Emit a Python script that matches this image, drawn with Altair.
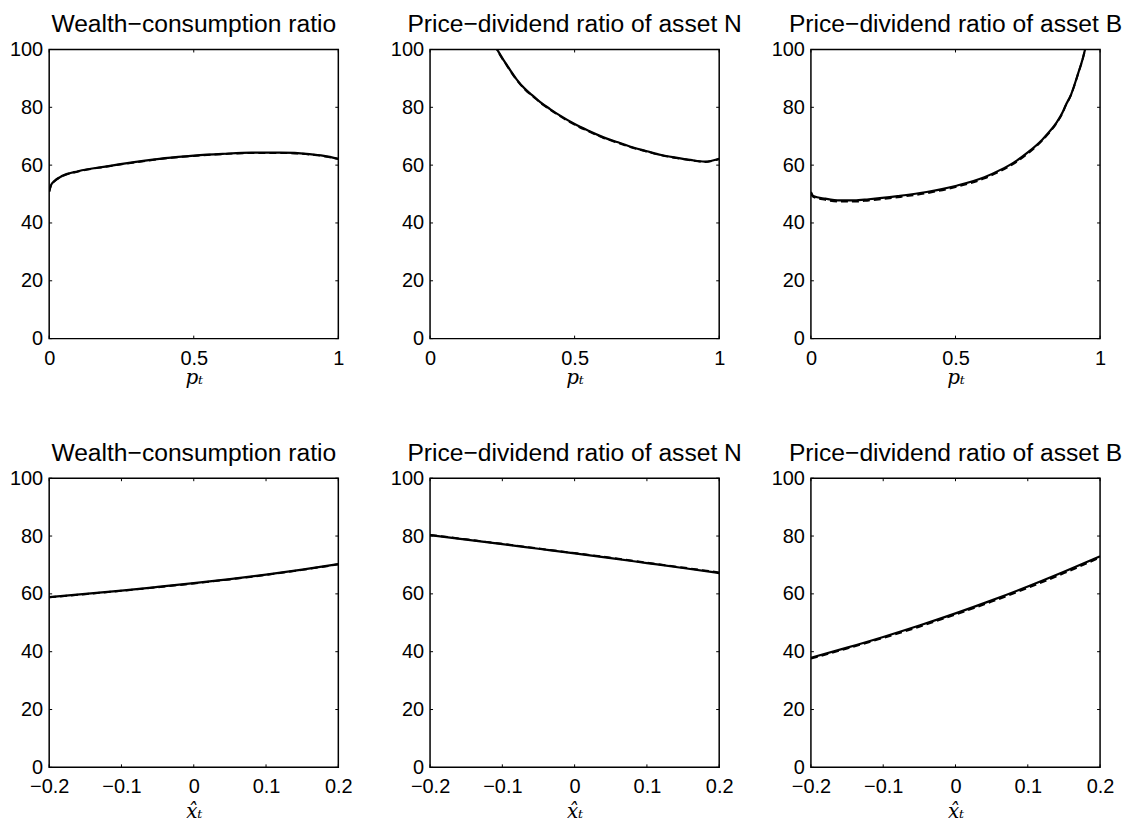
import altair as alt
import pandas as pd

# ---------------- data ----------------
TITLES = ["Wealth\u2212consumption ratio",
          "Price\u2212dividend ratio of asset N",
          "Price\u2212dividend ratio of asset B"]

# top row: against p_t
WC_P_X = [0, 0.006, 0.017, 0.046, 0.1, 0.2, 0.3, 0.4, 0.5, 0.6, 0.7, 0.8, 0.9, 0.95, 1.0]
WC_P_SOLID = [50.9, 53.0, 54.4, 56.3, 57.9, 59.6, 61.1, 62.4, 63.3, 63.9, 64.3, 64.3, 63.8, 63.2, 62.2]
WC_P_DASH = [50.8, 52.9, 54.3, 56.2, 57.8, 59.5, 61.0, 62.3, 63.2, 63.8, 64.2, 64.2, 63.7, 63.1, 62.1]

PN_P_X = [0.22, 0.232, 0.25, 0.266, 0.28, 0.3, 0.33, 0.358, 0.38, 0.415, 0.45, 0.5,
          0.55, 0.6, 0.65, 0.7, 0.75, 0.8, 0.85, 0.9, 0.95, 1.0]
PN_P_SOLID = [102.0, 100.0, 97.0, 94.6, 92.4, 89.6, 86.2, 83.8, 81.9, 79.4, 77.1, 74.2,
              71.8, 69.6, 67.9, 66.2, 64.8, 63.5, 62.6, 61.8, 61.2, 62.2]
PN_P_DASH = [101.8, 99.8, 96.8, 94.4, 92.2, 89.4, 86.0, 83.6, 81.7, 79.2, 76.9, 74.0,
             71.6, 69.4, 67.7, 66.0, 64.7, 63.4, 62.5, 61.7, 61.1, 62.1]

PB_P_X = [0, 0.008, 0.05, 0.1, 0.15, 0.2, 0.3, 0.4, 0.5, 0.6, 0.65, 0.7, 0.75, 0.8,
          0.82, 0.85, 0.87, 0.88, 0.9, 0.91, 0.925, 0.94, 0.948, 0.955]
PB_P_SOLID = [50.7, 49.3, 48.4, 47.8, 47.8, 48.2, 49.3, 50.7, 52.8, 55.8, 58.1, 60.8,
              64.4, 68.8, 71.0, 74.8, 78.2, 80.5, 84.5, 87.3, 92.0, 96.8, 100.0, 103.0]
PB_P_DASH = [50.4, 49.0, 48.0, 47.4, 47.4, 47.8, 48.9, 50.3, 52.4, 55.4, 57.7, 60.4,
             64.0, 68.5, 70.7, 74.6, 78.0, 80.3, 84.4, 87.2, 91.9, 96.7, 99.9, 102.9]

# bottom row: against x-hat
XH = [-0.2, -0.15, -0.1, -0.05, 0, 0.05, 0.1, 0.15, 0.2]
WC_X_SOLID = [58.9, 60.0, 61.15, 62.4, 63.7, 65.1, 66.65, 68.4, 70.3]
WC_X_DASH = [58.8, 59.9, 61.05, 62.3, 63.6, 65.0, 66.55, 68.3, 70.2]
PN_X_SOLID = [80.3, 78.75, 77.2, 75.6, 74.0, 72.35, 70.65, 68.95, 67.2]
PN_X_DASH = [80.4, 78.85, 77.3, 75.7, 74.1, 72.5, 70.8, 69.1, 67.4]
PB_X_SOLID = [37.9, 41.4, 45.1, 49.05, 53.25, 57.75, 62.55, 67.65, 73.0]
PB_X_DASH = [37.6, 41.1, 44.75, 48.65, 52.85, 57.3, 62.05, 67.15, 72.6]

P_TICKS = [0, 0.5, 1]
X_TICKS = [-0.2, -0.1, 0, 0.1, 0.2]
Y_TICKS = [0, 20, 40, 60, 80, 100]

# ---------------- styling ----------------
W = H = 290
FONT = "Liberation Sans"
TL = 3  # inward tick length
NB = "\u00a0\u00a0"


def panel(title, xs, solid, dashed, xdomain, xticks, xtitle, title_y):
    xscale = alt.Scale(domain=xdomain, nice=False, zero=False)
    yscale = alt.Scale(domain=[0, 100], nice=False, zero=False)
    xaxis = alt.Axis(
        values=xticks,
        labelExpr="datum.value < 0 ? format(datum.value, '~g') + '" + NB + "' : format(datum.value, '~g')",
        labelFont=FONT, labelFontSize=20, labelColor="black", labelPadding=9.5,
        labelFlush=False, labelOverlap=False,
        domain=False, ticks=False, grid=False,
        title=xtitle, titleFont="DejaVu Serif", titleFontStyle="italic",
        titleFontWeight="normal", titleFontSize=20, titleColor="black",
        titleY=title_y, titleBaseline="alphabetic")
    yaxis = alt.Axis(
        values=Y_TICKS, labelFont=FONT, labelFontSize=20, labelColor="black",
        labelPadding=6.5, labelFlush=False, labelOverlap=False,
        domain=False, ticks=False, grid=False, title=None)

    ds = pd.DataFrame({"x": xs, "y": solid})
    dd = pd.DataFrame({"x": xs, "y": dashed})

    solid_line = alt.Chart(ds).mark_line(
        color="black", strokeWidth=2.2, clip=True, interpolate="monotone"
    ).encode(
        x=alt.X("x:Q", scale=xscale, axis=xaxis),
        y=alt.Y("y:Q", scale=yscale, axis=yaxis),
    )
    dash_line = alt.Chart(dd).mark_line(
        color="black", strokeWidth=2.0, strokeDash=[7, 4], clip=True, interpolate="monotone"
    ).encode(
        x=alt.X("x:Q", scale=xscale, axis=xaxis),
        y=alt.Y("y:Q", scale=yscale, axis=yaxis),
    )
    xt = pd.DataFrame({"x": xticks})
    yt = pd.DataFrame({"y": Y_TICKS})
    rule = dict(color="black", strokeWidth=1)
    bot = alt.Chart(xt).mark_rule(**rule).encode(
        x=alt.X("x:Q", scale=xscale, axis=xaxis), y=alt.value(H), y2=alt.value(H - TL))
    top = alt.Chart(xt).mark_rule(**rule).encode(
        x=alt.X("x:Q", scale=xscale, axis=xaxis), y=alt.value(0), y2=alt.value(TL))
    left = alt.Chart(yt).mark_rule(**rule).encode(
        y=alt.Y("y:Q", scale=yscale, axis=yaxis), x=alt.value(0), x2=alt.value(TL))
    right = alt.Chart(yt).mark_rule(**rule).encode(
        y=alt.Y("y:Q", scale=yscale, axis=yaxis), x=alt.value(W), x2=alt.value(W - TL))

    head = alt.Chart(pd.DataFrame({"t": [title]})).mark_text(
        font=FONT, fontSize=24.7, color="black", align="center", baseline="alphabetic"
    ).encode(text="t:N", x=alt.value(W / 2), y=alt.value(-17.5))

    return alt.layer(solid_line, dash_line, bot, top, left, right, head).properties(
        width=W, height=H)


P_TITLE = "p\u209c"
X_TITLE = "x\u0302\u209c"

panels = [
    panel(TITLES[0], WC_P_X, WC_P_SOLID, WC_P_DASH, [0, 1], P_TICKS, P_TITLE, 45),
    panel(TITLES[1], PN_P_X, PN_P_SOLID, PN_P_DASH, [0, 1], P_TICKS, P_TITLE, 45),
    panel(TITLES[2], PB_P_X, PB_P_SOLID, PB_P_DASH, [0, 1], P_TICKS, P_TITLE, 45),
    panel(TITLES[0], XH, WC_X_SOLID, WC_X_DASH, [-0.2, 0.2], X_TICKS, X_TITLE, 50),
    panel(TITLES[1], XH, PN_X_SOLID, PN_X_DASH, [-0.2, 0.2], X_TICKS, X_TITLE, 50),
    panel(TITLES[2], XH, PB_X_SOLID, PB_X_DASH, [-0.2, 0.2], X_TICKS, X_TITLE, 50),
]

chart = alt.concat(
    *panels, columns=3,
    spacing=alt.RowColnumber(row=140, column=92),
    bounds="flush",
).properties(
    padding={"left": 0.3, "top": 1.4, "right": 0, "bottom": 0},
    background="white",
).configure_view(
    stroke="black", strokeWidth=1.5
)

chart.save("out.html", embed_options={"renderer": "svg", "actions": False})
